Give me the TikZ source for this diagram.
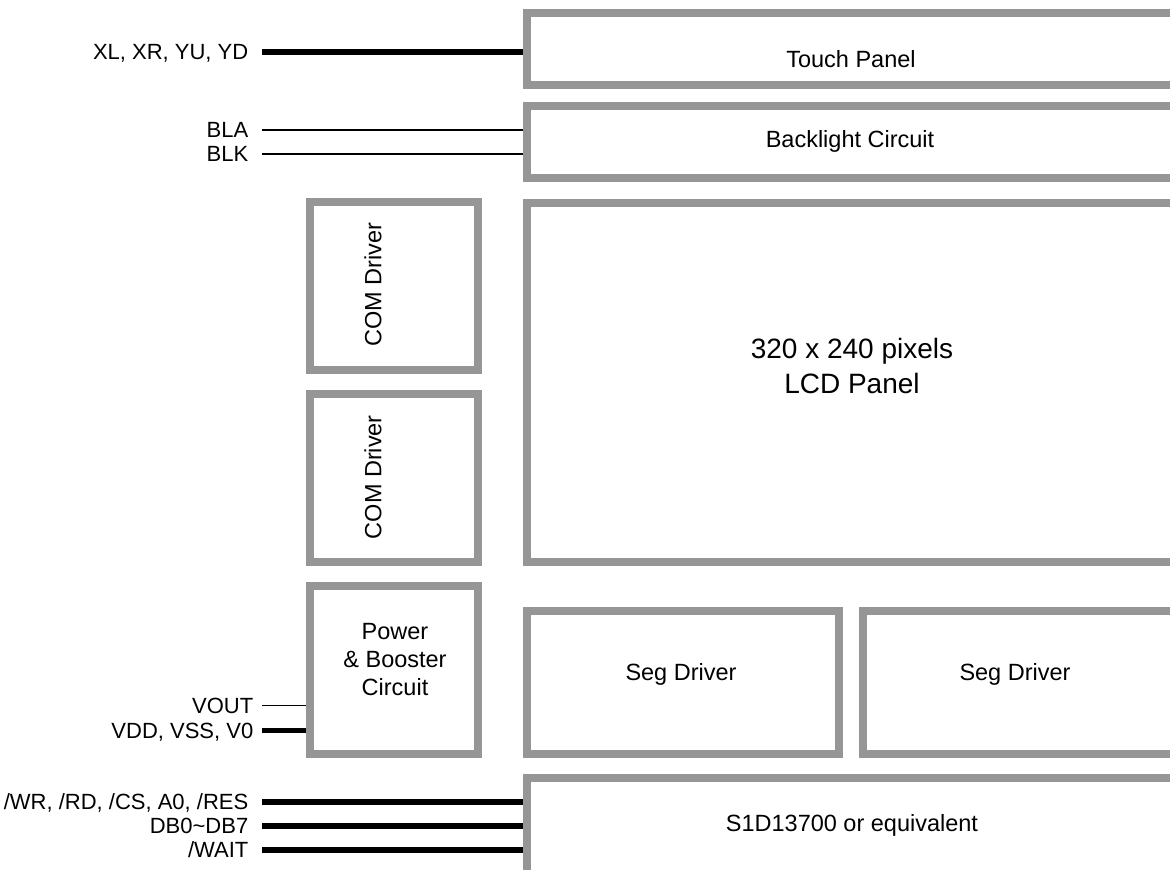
\documentclass[tikz,border=0pt]{standalone}
\usepackage{fontspec}
\setmainfont{Liberation Sans}
\usetikzlibrary{positioning}
\definecolor{boxgray}{RGB}{150,150,150}

\begin{document}
\begin{tikzpicture}[x=1pt,y=-1pt,
    blocco/.style={draw=boxgray, line width=8pt, fill=white, inner sep=0pt},
    testo/.style={font=\fontsize{23.5}{28}\selectfont, align=center, inner sep=0pt},
    etichetta/.style={font=\fontsize{22}{26}\selectfont, inner sep=0pt, outer sep=0pt,
        text height=15.8pt, text depth=0pt},
    filo/.style={line width=1.3pt},
    bus/.style={line width=5.6pt}]

    % area visibile
    \useasboundingbox (0,0) rectangle (1170,870);
    \clip (0,0) rectangle (1170,870);

    % blocchi
    \node[blocco, minimum width=657.5pt, minimum height=72pt] (touch) at (855.25,49.3) {};
    \node[blocco, minimum width=657.5pt, minimum height=72.3pt] (backlight) at (855.25,142.2) {};
    \node[blocco, minimum width=657.5pt, minimum height=359pt] (lcd) at (855.25,382.5) {};
    \node[blocco, minimum width=168.3pt, minimum height=167.2pt] (com1) at (394.2,285.9) {};
    \node[blocco, minimum width=168.3pt, minimum height=168pt] (com2) at (394.2,478) {};
    \node[blocco, minimum width=168.3pt, minimum height=167.7pt] (power) at (394.2,670.2) {};
    \node[blocco, minimum width=312.8pt, minimum height=143.5pt] (seg1) at (682.9,682.3) {};
    \node[blocco, minimum width=320.7pt, minimum height=143.5pt] (seg2) at (1023.7,682.3) {};
    \node[blocco, minimum width=657.5pt, minimum height=122pt] (s1d) at (855.25,839) {};

    % testi dei blocchi
    \node[testo, anchor=base] (touchtxt) at (851,67.7) {Touch Panel};
    \node[testo, anchor=base] (backlighttxt) at (850,147.3) {Backlight Circuit};
    \node[testo, font=\fontsize{28}{35}\selectfont] (lcdtxt) at (852,365.5) {320 x 240 pixels\\LCD Panel};
    \node[testo, rotate=90] (com1txt) at (373,284.7) {COM Driver};
    \node[testo, rotate=90] (com2txt) at (373,477.2) {COM Driver};
    \node[testo] (powertxt) at (395,659.4) {Power\\\& Booster\\Circuit};
    \node[testo, anchor=base] (seg1txt) at (681,680.7) {Seg Driver};
    \node[testo, anchor=base] (seg2txt) at (1015,680.7) {Seg Driver};
    \node[testo, anchor=base] (s1dtxt) at (852,831.7) {S1D13700 or equivalent};

    % segnali
    \coordinate (xl) at (262.3,51.7);
    \coordinate (bla) at (262.3,130);
    \coordinate (blk) at (262.3,154);
    \coordinate (vout) at (262.3,705.3);
    \coordinate (vdd) at (262.3,730.3);
    \coordinate (wr) at (262.3,802);
    \coordinate (db) at (262.3,826);
    \coordinate (wait) at (262.3,850);

    \node[etichetta, left=14pt of xl] (xllbl) {XL, XR, YU, YD};
    \node[etichetta, left=14pt of bla] (blalbl) {BLA};
    \node[etichetta, left=14pt of blk] (blklbl) {BLK};
    \node[etichetta, left=9pt of vout] (voutlbl) {VOUT};
    \node[etichetta, left=9pt of vdd] (vddlbl) {VDD, VSS, V0};
    \node[etichetta, left=14pt of wr] (wrlbl) {/WR, /RD, /CS, A0, /RES};
    \node[etichetta, left=14pt of db] (dblbl) {DB0\textasciitilde DB7};
    \node[etichetta, left=14pt of wait] (waitlbl) {/WAIT};

    \draw[bus] (xl) -- (xl -| touch.west);
    \draw[filo] (bla) -- (bla -| backlight.west);
    \draw[filo] (blk) -- (blk -| backlight.west);
    \draw[filo] (vout) -- (vout -| power.west);
    \draw[bus] (vdd) -- (vdd -| power.west);
    \draw[bus] (wr) -- (wr -| s1d.west);
    \draw[bus] (db) -- (db -| s1d.west);
    \draw[bus] (wait) -- (wait -| s1d.west);

\end{tikzpicture}
\end{document}
